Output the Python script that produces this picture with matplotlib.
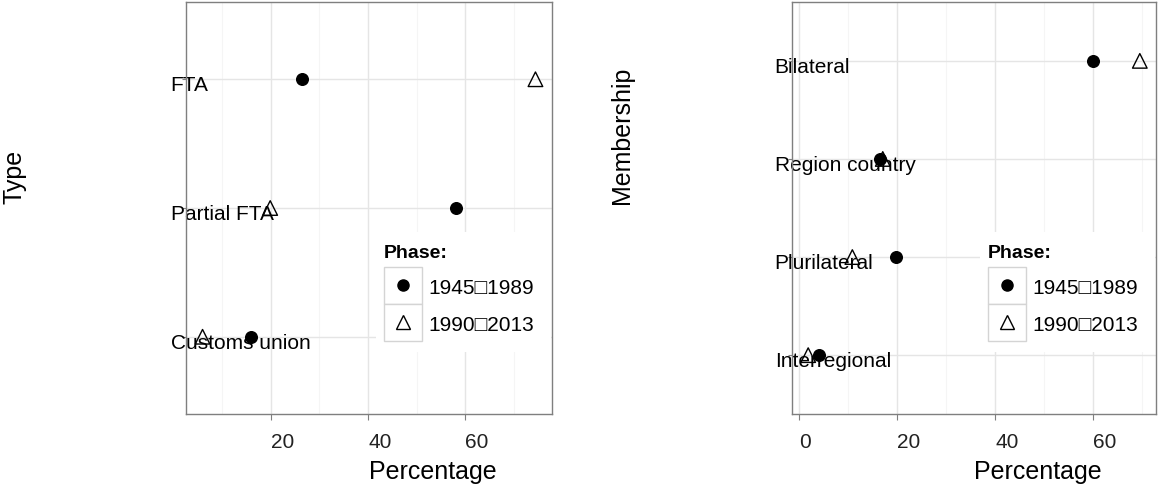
import numpy as np
import matplotlib
matplotlib.use("Agg")
import matplotlib.pyplot as plt
from matplotlib.lines import Line2D
from matplotlib.patches import Rectangle
from matplotlib.ticker import MultipleLocator
from matplotlib.transforms import ScaledTranslation

plt.rcParams["font.family"] = ["Liberation Sans", "DejaVu Sans"]

# left panel: agreement type (top to bottom)
type_labels = ["FTA", "Partial FTA", "Customs union"]
type_1945_1989 = [26.5, 58.0, 16.0]
type_1990_2013 = [74.4, 19.9, 6.0]

# right panel: membership (top to bottom)
member_labels = ["Bilateral", "Region country", "Plurilateral", "Interregional"]
member_1945_1989 = [59.9, 16.6, 19.9, 4.1]
member_1990_2013 = [69.5, 17.1, 10.9, 1.9]

phase_labels = ["1945\u25a11989", "1990\u25a12013"]

W, H = 1158, 485
fig = plt.figure(figsize=(W / 100, H / 100), dpi=100)


def fx(px):
    return px / W


def fy(py):
    return 1 - py / H


def legend_box(right_px):
    # hand-built legend in pixel units, anchored to the panel's right edge
    x0 = right_px - 168
    fig.add_artist(Rectangle((fx(x0 - 8), fy(353)), fx(right_px - 1) - fx(x0 - 8),
                             fy(233) - fy(353), transform=fig.transFigure,
                             facecolor="white", edgecolor="none", zorder=2))
    fig.text(fx(x0), fy(253), "Phase:", fontsize=14, fontweight="bold",
             ha="left", va="center", zorder=3)
    rows = [(268, 305), (305, 342)]
    for i, (t, b) in enumerate(rows):
        fig.add_artist(Rectangle((fx(x0), fy(b)), fx(38), fy(t) - fy(b),
                                 transform=fig.transFigure, facecolor="white",
                                 edgecolor="#d4d4d4", linewidth=1.0, zorder=3))
        cy = (t + b) / 2 - 1
        if i == 0:
            m = Line2D([fx(x0 + 19)], [fy(cy)], marker="o", color="black",
                       markersize=8, linestyle="none", transform=fig.transFigure)
        else:
            m = Line2D([fx(x0 + 19)], [fy(cy)], marker="^", markerfacecolor="none",
                       markeredgecolor="black", markeredgewidth=1.0, markersize=10,
                       linestyle="none", transform=fig.transFigure)
        m.set_zorder(4)
        fig.add_artist(m)
        fig.text(fx(x0 + 44), fy(cy + 3), phase_labels[i], fontsize=15,
                 ha="left", va="center", zorder=4)


def panel(left_px, right_px, labels, v1, v2, xlim, xticks, ylabel, ylab_x, label_pad):
    ax = fig.add_axes([fx(left_px), fy(415), fx(right_px - left_px), fy(3) - fy(415)])
    n = len(labels)
    pos = np.arange(n)[::-1] + 1
    ax.scatter(v1, pos, s=70, marker="o", color="black", zorder=3)
    ax.scatter(v2, pos, s=110, marker="^", facecolors="none", edgecolors="black",
               linewidths=1.0, zorder=3)
    ax.set_xlim(*xlim)
    ax.set_ylim(0.4, n + 0.6)
    ax.set_xticks(xticks)
    ax.set_xticklabels([str(t) for t in xticks], ha="left")
    ax.xaxis.set_minor_locator(MultipleLocator(10))
    ax.set_yticks(pos)
    ax.set_yticklabels(labels, fontsize=15, ha="left")
    ax.tick_params(axis="y", length=3, color="#7f7f7f", pad=label_pad)
    ax.tick_params(axis="x", length=4, color="#7f7f7f", labelsize=15,
                   labelcolor="#222222", pad=9)
    ax.tick_params(axis="x", which="minor", length=0)
    # nudge category labels a little below their gridline, as in the original
    shift = ScaledTranslation(0, -2.5 / 72, fig.dpi_scale_trans)
    for lbl in ax.get_yticklabels():
        lbl.set_transform(lbl.get_transform() + shift)
    ax.grid(which="major", color="#e5e5e5", linewidth=1.0, zorder=0)
    ax.grid(which="minor", axis="x", color="#f5f5f5", linewidth=0.8, zorder=0)
    ax.set_axisbelow(True)
    for sp in ax.spines.values():
        sp.set_color("#7f7f7f")
        sp.set_linewidth(1.0)
    ax.set_xlabel("Percentage", fontsize=18, ha="left")
    ax.xaxis.set_label_coords(0.5, -0.11, transform=ax.transAxes)
    ax.xaxis.label.set_va("top")
    fig.text(fx(ylab_x), fy(204), ylabel, rotation=90, fontsize=18,
             ha="center", va="bottom")
    legend_box(right_px)
    return ax


panel(186, 552, type_labels, type_1945_1989, type_1990_2013,
      (2.6, 77.8), [20, 40, 60], "Type", 15, 8)
panel(792, 1156, member_labels, member_1945_1989, member_1990_2013,
      (-1.4, 72.8), [0, 20, 40, 60], "Membership", 622, 9.5)

fig.savefig("out.png", dpi=100)
